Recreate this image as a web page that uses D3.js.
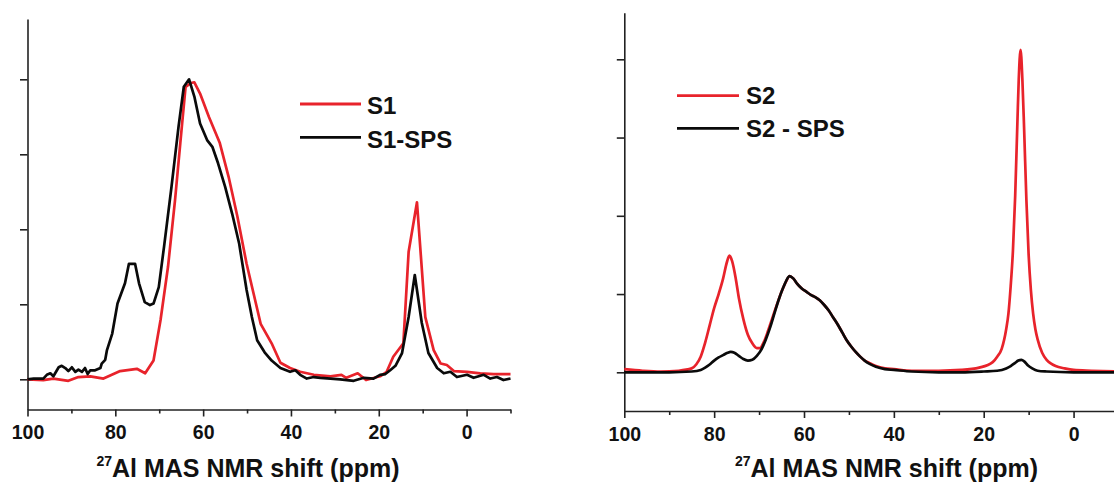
<!DOCTYPE html>
<html><head><meta charset="utf-8">
<script src="https://cdn.jsdelivr.net/npm/d3@7"></script>
<style>
body{margin:0;background:#fff;}
svg{display:block;}
text{font-family:"Liberation Sans",Arial,sans-serif;font-weight:bold;fill:#111;}
</style></head>
<body>
<svg id="c" width="1114" height="498"></svg>
<script>
// ---------- DATA (ppm, intensity in y-tick units) ----------
const xMajorTicks = [100, 80, 60, 40, 20, 0];
const xMinorTicks = [90, 70, 50, 30, 10, -10];
const yTicks = [0, 1, 2, 3, 4];
const xTitle = "Al MAS NMR shift ";
const xTitleSup = "27";

const s1Name = "S1";
const s1 = [[100,0],[96.4,-0.01],[94.1,0.01],[90.7,-0.02],[88.4,0.03],[85.7,0.04],[82.7,0.01],[78.9,0.11],[75.1,0.14],[73.2,0.08],[71.3,0.25],[69.7,0.79],[68,1.5],[66.4,2.39],[65.2,3.15],[64,3.9],[62.8,3.95],[62,3.96],[60.7,3.81],[58.7,3.5],[56.2,3.15],[54.2,2.7],[52.2,2.17],[50.1,1.54],[48.5,1.14],[46.9,0.74],[44.4,0.48],[42.4,0.22],[40.2,0.15],[37.9,0.1],[34.8,0.06],[31,0.04],[28.5,0.06],[27.4,0.02],[24.8,0.08],[22.9,-0.01],[19.7,0.04],[18.2,0.1],[16.7,0.3],[14.4,0.48],[13.2,1.7],[11.3,2.36],[9.4,0.83],[7.5,0.39],[5.9,0.21],[4.5,0.19],[2.9,0.11],[-0.1,0.10],[-3.1,0.08],[-6.2,0.07],[-10,0.07]];

const s1spsName = "S1-SPS";
const s1sps = [[100,0],[98.6,0.01],[96.4,0.01],[95.6,0.06],[94.8,0.08],[94.1,0.04],[92.9,0.16],[92.2,0.18],[91.4,0.15],[90.7,0.11],[89.9,0.16],[89.1,0.10],[88.4,0.13],[87.6,0.10],[86.9,0.15],[86.3,0.07],[85.7,0.12],[84.6,0.12],[83.4,0.15],[83.1,0.21],[82.3,0.26],[81.9,0.39],[80.7,0.61],[79.5,1.01],[77.8,1.28],[76.9,1.54],[75.5,1.54],[74.6,1.28],[73.3,1.03],[72.1,0.99],[71.3,1.01],[70.1,1.23],[68.9,1.77],[67.2,2.57],[65.6,3.37],[64.4,3.9],[63.2,4.0],[62,3.77],[60.7,3.41],[59.1,3.19],[57.9,3.10],[56.6,2.88],[55,2.57],[53.4,2.21],[51.8,1.81],[50.1,1.19],[48.9,0.83],[47.7,0.52],[46,0.36],[44.4,0.25],[42.4,0.15],[40.2,0.1],[39,0.12],[37.9,0.06],[36.4,0.01],[34.8,0.03],[33.3,0.02],[31,0.01],[28.8,0.0],[25.7,-0.02],[23.4,0.02],[21.2,0.01],[19.7,0.06],[18.5,0.07],[17.4,0.12],[16.2,0.18],[14.7,0.35],[13.2,0.83],[11.8,1.39],[10.2,0.75],[8.7,0.35],[7.1,0.19],[6.7,0.15],[5.2,0.08],[3.7,0.10],[2.2,0.03],[-0.1,0.06],[-1.6,0.02],[-3.9,0.06],[-5.4,0.01],[-6.9,0.03],[-8.4,-0.01],[-10,0.01]];

const s2Name = "S2";
const s2 = [[100,0.04],[95.9,0.02],[91.9,0.01],[87.9,0.02],[85,0.05],[84,0.1],[83,0.2],[82,0.38],[81,0.6],[80,0.82],[79,1.0],[78,1.2],[77.2,1.4],[76.6,1.49],[76,1.42],[75.2,1.2],[74.5,0.95],[73.5,0.68],[72.5,0.48],[71.5,0.37],[70.5,0.31],[69.8,0.31],[69,0.38],[68,0.53],[67,0.7],[66,0.87],[65,1.03],[64,1.16],[63.2,1.23],[62.4,1.2],[61.5,1.13],[60.5,1.07],[59.5,1.03],[58.5,0.99],[57.5,0.96],[56.5,0.92],[55.5,0.86],[54.5,0.79],[53.5,0.7],[52.5,0.61],[51.5,0.51],[50.5,0.41],[49.5,0.33],[48.5,0.26],[47.5,0.2],[46.5,0.15],[45.5,0.12],[44,0.08],[42,0.05],[40,0.04],[36,0.02],[30,0.02],[25,0.03],[21,0.06],[18,0.13],[17,0.2],[16,0.3],[15,0.55],[14.5,0.75],[14,1.1],[13.5,1.55],[13,2.25],[12.5,3.2],[12.2,3.75],[11.8,4.12],[11.4,3.75],[11,3.1],[10.5,2.2],[10,1.5],[9.5,1.05],[9,0.75],[8.5,0.55],[8,0.42],[7,0.25],[6,0.16],[5,0.11],[4,0.08],[2,0.05],[0,0.03],[-4,0.02],[-10,0.01]];

const s2spsName = "S2 - SPS";
const s2sps = [[100,0],[90,0],[85,0.01],[83,0.03],[82,0.06],[81,0.1],[80,0.15],[79,0.19],[78,0.22],[77,0.25],[76.3,0.26],[75.5,0.25],[74.5,0.21],[73.5,0.17],[72.5,0.15],[71.5,0.16],[70.5,0.21],[69.5,0.29],[68.5,0.42],[67.5,0.58],[66.5,0.77],[65.5,0.95],[64.5,1.1],[63.2,1.23],[62.4,1.2],[61.5,1.13],[60.5,1.07],[59.5,1.03],[58.5,0.99],[57.5,0.96],[56.5,0.92],[55.5,0.86],[54.5,0.79],[53.5,0.7],[52.5,0.61],[51.5,0.51],[50.5,0.41],[49.5,0.33],[48.5,0.26],[47.5,0.2],[46.5,0.15],[45.5,0.11],[44,0.07],[42,0.04],[40,0.03],[36,0.01],[30,0],[25,0],[20,0.01],[17,0.02],[15,0.05],[14,0.08],[13,0.12],[12.3,0.15],[11.6,0.16],[11,0.14],[10.2,0.09],[9.2,0.05],[8,0.02],[6,0.01],[0,0],[-10,0]];

// ---------- DRAWING ----------
const svg = d3.select("#c");
const RED = "#e8232b", BLACK = "#0a0a0a";

function panel(cfg){
  const g = svg.append("g");
  const x = d3.scaleLinear().domain([100,-10]).range([cfg.x0, cfg.x1]);
  const y = d3.scaleLinear().domain([0,4]).range([cfg.yb, cfg.yt]);
  const bottom = cfg.axisY, top = cfg.axisTop;

  const ax = g.append("g").attr("transform",`translate(0,${bottom})`)
    .call(d3.axisBottom(x).tickValues(xMajorTicks).tickSize(7).tickSizeOuter(0).tickPadding(9).tickFormat(d3.format("d")));
  ax.selectAll("text").style("font-size","19.5px").attr("fill","#111");
  const axm = g.append("g").attr("transform",`translate(0,${bottom})`)
    .call(d3.axisBottom(x).tickValues(xMinorTicks).tickSize(4).tickSizeOuter(0).tickFormat(""));
  axm.select(".domain").remove();
  const yAxScale = d3.scaleLinear().domain([y.invert(bottom), y.invert(top)]).range([bottom, top]);
  g.append("g").attr("transform",`translate(${cfg.x0},0)`)
    .call(d3.axisLeft(yAxScale).tickValues(yTicks).tickSize(7.5).tickSizeOuter(0).tickFormat(""));
  g.selectAll(".domain, .tick line").attr("stroke","#222").attr("stroke-width",1.6);

  const line = d3.line().x(d=>x(d[0])).y(d=>y(d[1])).curve(cfg.curve);
  cfg.series.forEach(s=>{
    g.append("path").datum(s.data).attr("d",line).attr("fill","none")
      .attr("stroke",s.color).attr("stroke-width",2.7).attr("stroke-linejoin","round");
  });

  cfg.series.forEach((s,i)=>{
    const ly = cfg.leg.y[i];
    g.append("line").attr("x1",cfg.leg.x1).attr("x2",cfg.leg.x2).attr("y1",ly).attr("y2",ly)
      .attr("stroke",s.color).attr("stroke-width",2.8);
    g.append("text").attr("x",cfg.leg.tx).attr("y",cfg.leg.ty[i]).style("font-size","24px").text(s.name);
  });

  const t = g.append("text").attr("x",cfg.titleX).attr("y",476.5).attr("text-anchor","middle").style("font-size","25px");
  t.append("tspan").style("font-size","14px").attr("dy","-11").text(xTitleSup);
  t.append("tspan").attr("dy","11").text(xTitle + "(ppm)");
}

panel({x0:27.5, x1:510.5, yb:379.3, yt:79.3, axisY:409.5, axisTop:19, curve:d3.curveLinear,
  series:[{name:s1Name,data:s1,color:RED},{name:s1spsName,data:s1sps,color:BLACK}],
  leg:{x1:300,x2:361,tx:367,y:[104,137.3],ty:[114.3,148.3]}, titleX:248});

panel({x0:624.3, x1:1118.5, yb:372.3, yt:59.3, axisY:411, axisTop:12.7, curve:d3.curveMonotoneX,
  series:[{name:s2Name,data:s2,color:RED},{name:s2spsName,data:s2sps,color:BLACK}],
  leg:{x1:677,x2:739,tx:746,y:[95.7,128.3],ty:[104.3,136.7]}, titleX:886.5});
</script>
</body></html>
